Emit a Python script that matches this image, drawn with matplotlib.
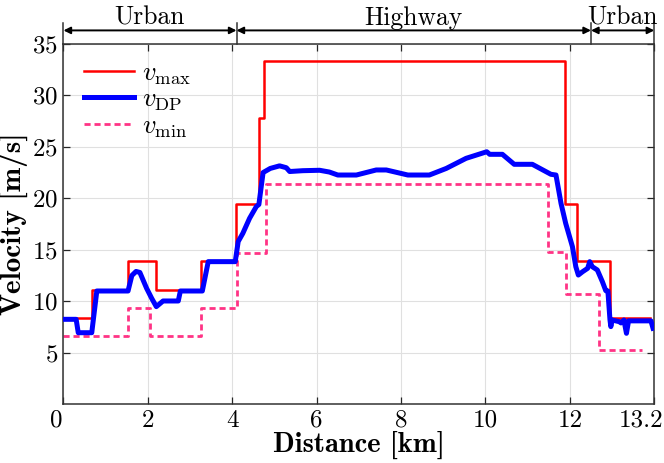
import matplotlib
matplotlib.use("Agg")
import matplotlib.pyplot as plt
import matplotlib.transforms as mtransforms

plt.rcParams['font.family'] = 'serif'
plt.rcParams['font.serif'] = ['cmr10']
plt.rcParams['mathtext.fontset'] = 'cm'
plt.rcParams['axes.formatter.use_mathtext'] = True

# ---- data ----
vmax_x = [0, 0.67, 1.53, 2.19, 3.27, 4.08, 4.63, 4.76, 11.88, 12.16, 12.96, 13.9]
vmax_y = [8.33, 11.11, 13.89, 11.11, 13.89, 19.44, 27.78, 33.33, 19.44, 13.89, 8.33, 8.33]

vmin_x = [0, 1.53, 2.06, 3.27, 4.11, 4.80, 11.49, 11.90, 12.69, 13.72]
vmin_y = [6.6, 9.36, 6.6, 9.36, 14.72, 21.4, 14.75, 10.67, 5.29, 5.29]

vdp_x = [0.0, 0.30, 0.35, 0.67, 0.79, 1.53, 1.62, 1.72, 1.81, 1.97, 2.09, 2.20,
         2.36, 2.72, 2.77, 3.29, 3.43, 4.02, 4.07, 4.14, 4.25, 4.41, 4.57, 4.63,
         4.73, 4.90, 5.12, 5.28, 5.36, 5.67, 6.07, 6.30, 6.50, 6.94, 7.41, 7.65,
         8.16, 8.67, 9.07, 9.54, 10.03, 10.10, 10.40, 10.68, 11.11, 11.55, 11.67,
         11.79, 11.90, 12.06, 12.14, 12.20, 12.30, 12.42, 12.47, 12.53, 12.65,
         12.77, 12.85, 12.90, 12.95, 12.97, 13.00, 13.17, 13.21, 13.28, 13.34,
         13.39, 13.92, 13.97]
vdp_y = [8.25, 8.25, 6.95, 6.95, 11.0, 11.0, 12.5, 12.9, 12.8, 11.26, 10.29, 9.48,
         10.03, 10.03, 11.0, 11.0, 13.85, 13.85, 13.85, 15.8, 16.6, 18.06, 19.2, 19.4,
         22.5, 22.9, 23.15, 22.97, 22.6, 22.68, 22.72, 22.55, 22.26, 22.26, 22.75, 22.75,
         22.26, 22.26, 22.9, 23.88, 24.52, 24.27, 24.27, 23.3, 23.3, 22.33, 22.26,
         19.5, 17.57, 15.3, 13.36, 12.55, 12.87, 13.2, 13.85, 13.36, 13.04,
         11.9, 11.03, 11.0, 8.18, 7.54, 8.18, 8.02, 7.9, 8.18, 6.89,
         8.1, 8.1, 7.38]

xticks = [0, 2, 4, 6, 8, 10, 12, 14]
xtick_labels = ['0', '2', '4', '6', '8', '10', '12', '13.2']
yticks = [5, 10, 15, 20, 25, 30, 35]

zones = ['Urban', 'Highway', 'Urban']
zone_edges = [0, 4.1, 12.5, 14]

# ---- figure ----
fig = plt.figure(figsize=(6.64, 4.63), dpi=100)
ax = fig.add_axes([0.0956, 0.1268, 0.8898, 0.7786])

red = '#ff0000'
blue = '#0000ff'
pink = '#ff3385'

ax.step(vmax_x, vmax_y, where='post', color=red, lw=1.8, label=r'$v_{\mathrm{max}}$', zorder=3)
ax.plot(vdp_x, vdp_y, color=blue, lw=3.6, label=r'$v_{\mathrm{DP}}$', zorder=4,
        solid_joinstyle='round')
ax.step(vmin_x, vmin_y, where='post', color=pink, lw=2.0, ls=(0, (2.2, 1.4)),
        label=r'$v_{\mathrm{min}}$', zorder=2)

ax.set_xlim(0, 14)
ax.set_ylim(0, 35)
ax.set_xticks(xticks)
ax.set_xticklabels(xtick_labels)
ax.set_yticks(yticks)
ax.grid(True, color='#e0e0e0', lw=0.8)
ax.set_axisbelow(True)
ax.tick_params(direction='in', length=5, width=0.9, top=True, right=True,
               labelsize=18, colors='#262626', pad=4)
for lbl in ax.get_yticklabels() + ax.get_xticklabels():
    lbl.set_color('black')
for s in ax.spines.values():
    s.set_color('#333333')
    s.set_linewidth(1.1)

# shift first / last x tick labels as in the reference
xl = ax.get_xticklabels()
xl[-1].set_transform(xl[-1].get_transform() + mtransforms.ScaledTranslation(-13/100, 0, fig.dpi_scale_trans))
xl[0].set_transform(xl[0].get_transform() + mtransforms.ScaledTranslation(-7/100, 0, fig.dpi_scale_trans))

ax.set_xlabel('Distance [km]', fontfamily='cmb10', fontsize=20.5, labelpad=-1)
ax.set_ylabel('Velocity [m/s]', fontfamily='cmb10', fontsize=21, labelpad=3)

leg = ax.legend(loc='upper left', frameon=False, fontsize=19, handlelength=1.9,
                handletextpad=0.3, labelspacing=0.05, borderaxespad=0.2,
                bbox_to_anchor=(0.008, 0.995))

# zone annotations above axes
for i, name in enumerate(zones):
    x0, x1 = zone_edges[i], zone_edges[i + 1]
    ax.annotate('', xy=(x0, 36.3), xytext=(x1, 36.3),
                arrowprops=dict(arrowstyle='<|-|>', color='black', lw=1.4,
                                mutation_scale=10, shrinkA=0, shrinkB=0),
                annotation_clip=False)
    ax.text((x0 + x1) / 2, 36.85, name, ha='center', va='baseline', fontsize=18.5,
            clip_on=False)
for xe in zone_edges:
    ax.plot([xe, xe], [35, 37.0], color='#333333', lw=1.1, clip_on=False)

fig.savefig('out.png', dpi=100)
